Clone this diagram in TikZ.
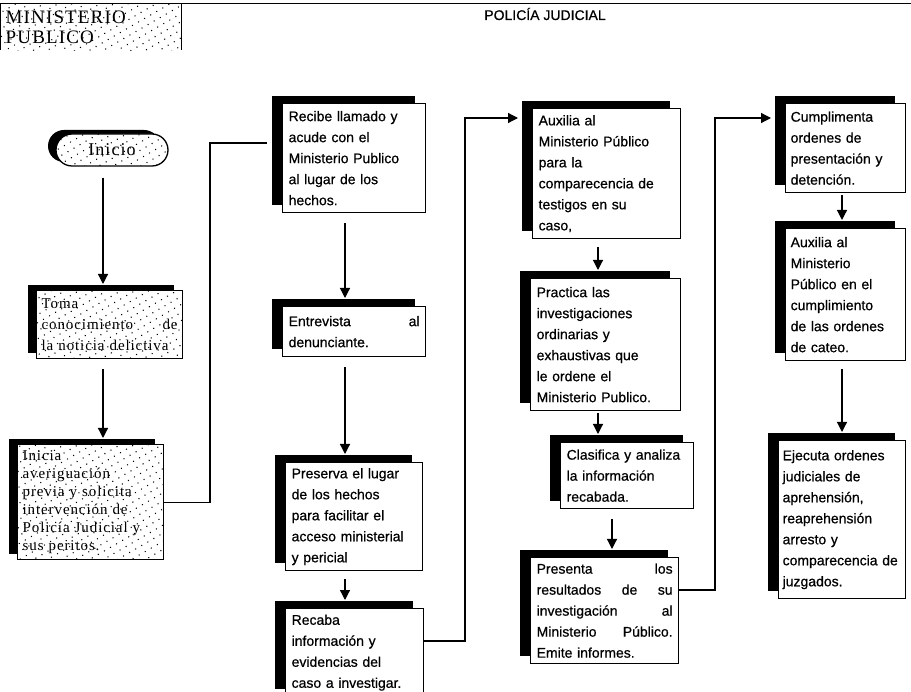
\documentclass[tikz,border=0pt]{standalone}
\usepackage{fontspec}
\setmainfont{Liberation Sans}
\newfontfamily\pjfont[FakeBold=0.6]{Liberation Sans}
\newfontfamily\mpfont{Liberation Serif}
\newfontfamily\mpwide[LetterSpace=6]{Liberation Serif}
\usetikzlibrary{arrows.meta,shadows,patterns.meta}
\begin{document}
\begin{tikzpicture}[x=1pt,y=-1pt,
  dotpat/.style={postaction={pattern={Dots[distance=7pt, radius=0.75pt, angle=30]}}},
  pj/.style={draw=black, line width=1.3pt, fill=white, rectangle, anchor=north west,
    inner xsep=6pt, inner ysep=3pt, align=left, font=\pjfont\fontsize{14}{21}\selectfont,
    general shadow={shadow xshift=-11pt, shadow yshift=8pt, fill=black}},
  mp/.style={draw=black, line width=1.3pt, fill=white, dotpat, rectangle, anchor=north west,
    inner xsep=5pt, inner ysep=3pt, align=left, font=\mpwide\fontsize{15}{21}\selectfont,
    general shadow={shadow xshift=-9pt, shadow yshift=6pt, fill=black}},
  iniciobox/.style={draw=black, line width=1.3pt, fill=white, dotpat, rectangle, rounded corners=16pt,
    minimum width=112pt, minimum height=32pt, font=\mpwide\fontsize{18}{20}\selectfont,
    general shadow={shadow xshift=-8pt, shadow yshift=4pt, fill=black}},
  hdrbox/.style={rectangle, anchor=north west, fill=white, dotpat,
    inner xsep=5pt, align=left, font=\mpwide\fontsize{19}{20}\selectfont},
  arr/.style={-{Triangle[width=10pt,length=10pt]}, line width=1.2pt},
  conn/.style={line width=1.2pt}
]
\clip (0,0) rectangle (911,692);
\fill[white] (0,0) rectangle (911,692);

% header
\node[hdrbox, minimum width=181pt, minimum height=46pt, text width=170pt] (hdr) at (0,4) {MINISTERIO\\PUBLICO};
\coordinate (hdrR) at (911,4);
\draw[line width=1pt] (hdr.south west) -- (hdr.north west) -- (hdrR);
\draw[line width=1pt] (hdr.north east) -- (hdr.south east);
\node[font=\pjfont\fontsize{14}{16}\selectfont] (pjt) at (545,14) {POLICÍA JUDICIAL};

% Ministerio Publico column
\node[iniciobox] (ini) at (112,150) {Inicio};
\node[mp, minimum width=146pt, minimum height=68pt, text width=136pt] (toma) at (36,290)
  {Toma\\conocimiento\hfill de\\la noticia delictiva};
\node[mp, minimum width=146pt, minimum height=115pt, text width=136pt, font=\mpwide\fontsize{15}{18}\selectfont] (inicia) at (17,444)
  {Inicia\\averiguación\\previa y solicita\\intervención de\\Policía Judicial y\\sus peritos.};

% Policia Judicial column 1
\node[pj, minimum width=143pt, minimum height=109pt, text width=131pt] (recibe) at (282,103)
  {Recibe llamado y\\acude con el\\Ministerio Publico\\al lugar de los\\hechos.};
\node[pj, minimum width=143pt, minimum height=50pt, text width=131pt] (entre) at (282,306)
  {Entrevista\hfill al\\denunciante.};
\node[pj, minimum width=137pt, minimum height=108pt, text width=125pt] (preserva) at (285,462)
  {Preserva el lugar\\de los hechos\\para facilitar el\\acceso ministerial\\y pericial};
\node[pj, minimum width=138pt, minimum height=88pt, text width=126pt] (recaba) at (285,608)
  {Recaba\\información y\\evidencias del\\caso a investigar.};

% column 2
\node[pj, minimum width=148pt, minimum height=130pt, text width=136pt] (auxa) at (532,108)
  {Auxilia al\\Ministerio Público\\para la\\comparecencia de\\testigos en su\\caso,};
\node[pj, minimum width=150pt, minimum height=132pt, text width=138pt] (practica) at (530,278)
  {Practica las\\investigaciones\\ordinarias y\\exhaustivas que\\le ordene el\\Ministerio Publico.};
\node[pj, minimum width=133pt, minimum height=66pt, text width=121pt] (clasifica) at (560,442)
  {Clasifica y analiza\\la información\\recabada.};
\node[pj, minimum width=148pt, minimum height=106pt, text width=136pt] (presenta) at (530,557)
  {Presenta\hfill los\\resultados\hfill de\hfill su\\investigación\hfill al\\Ministerio\hfill Público.\\Emite informes.};

% column 3
\node[pj, minimum width=120pt, minimum height=89pt, text width=110pt, inner xsep=5pt] (cumpl) at (785,103)
  {Cumplimenta\\ordenes de\\presentación y\\detención.};
\node[pj, minimum width=120pt, minimum height=132pt, text width=110pt, inner xsep=5pt] (auxb) at (785,228)
  {Auxilia al\\Ministerio\\Público en el\\cumplimiento\\de las ordenes\\de cateo.};
\node[pj, minimum width=127pt, minimum height=158pt, text width=119pt, inner xsep=4pt] (ejecuta) at (778,440)
  {Ejecuta ordenes\\judiciales de\\aprehensión,\\reaprehensión\\arresto y\\comparecencia de\\juzgados.};

% column x positions
\coordinate (colA) at (103,0);
\coordinate (colB) at (345,0);
\coordinate (colC) at (598,0);
\coordinate (colC2) at (612,0);
\coordinate (colD) at (842,0);

% vertical arrows
\draw[arr, shorten <=11pt, shorten >=6pt] (ini.south -| colA) -- (toma.north -| colA);
\draw[arr, shorten <=10pt, shorten >=6pt] (toma.south -| colA) -- (inicia.north -| colA);
\draw[arr, shorten <=10pt, shorten >=8pt] (recibe.south -| colB) -- (entre.north -| colB);
\draw[arr, shorten <=10pt, shorten >=8pt] (entre.south -| colB) -- (preserva.north -| colB);
\draw[arr, shorten <=8pt, shorten >=8pt] (preserva.south -| colB) -- (recaba.north -| colB);
\draw[arr, shorten <=8pt, shorten >=8pt] (auxa.south -| colC) -- (practica.north -| colC);
\draw[arr, shorten <=2pt, shorten >=8pt] (practica.south -| colC) -- (clasifica.north -| colC);
\draw[arr, shorten <=10pt, shorten >=8pt] (clasifica.south -| colC2) -- (presenta.north -| colC2);
\draw[arr, shorten <=2pt, shorten >=8pt] (cumpl.south -| colD) -- (auxb.north -| colD);
\draw[arr, shorten <=8pt, shorten >=8pt] (auxb.south -| colD) -- (ejecuta.north -| colD);

% connectors
\coordinate (c1a) at (210,143);
\draw[conn, shorten >=15pt] (inicia.east) -| (c1a) -- (c1a -| recibe.west);

\coordinate (c2s) at ([yshift=-33pt]recaba.north east);
\coordinate (c2a) at (465,118);
\draw[arr, shorten >=14pt] (c2s) -| (c2a) -- (c2a -| auxa.west);

\coordinate (c3s) at ([yshift=-33pt]presenta.north east);
\coordinate (c3a) at (715,118);
\draw[arr, shorten >=14pt] (c3s) -| (c3a) -- (c3a -| cumpl.west);
\end{tikzpicture}
\end{document}
